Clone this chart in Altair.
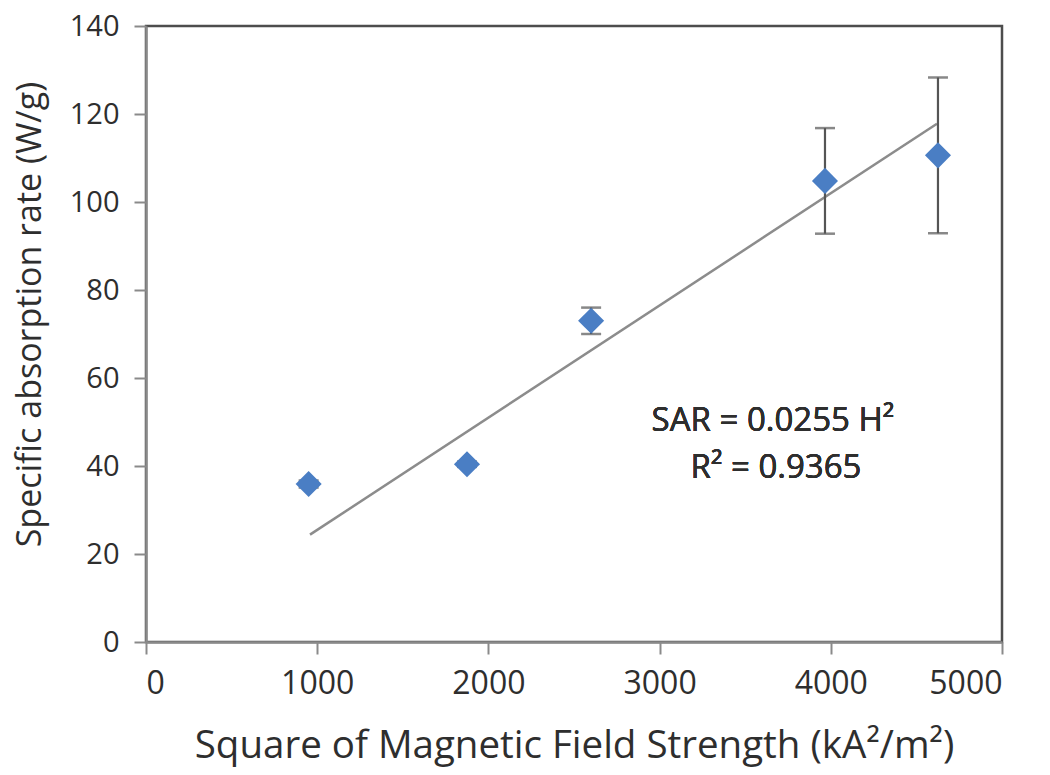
import altair as alt
import pandas as pd

# Data
h2 = [950, 1875, 2600, 3966, 4626]          # kA^2/m^2
sar = [35.9, 40.4, 73.0, 104.8, 110.6]       # W/g
err = [0.8, 0.6, 3.0, 12.0, 17.7]            # W/g

trend_x = [958, 4620]
trend_y = [24.4, 117.8]

x_ticks = [0, 1000, 2000, 3000, 4000, 5000]
y_ticks = [0, 20, 40, 60, 80, 100, 120, 140]

pts = pd.DataFrame({"h2": h2, "sar": sar, "err": err})
pts["lo"] = pts["sar"] - pts["err"]
pts["hi"] = pts["sar"] + pts["err"]
trend = pd.DataFrame({"h2": trend_x, "sar": trend_y})

FONT = "Open Sans"
TXT = "#2e2e2e"

x_scale = alt.Scale(domain=[0, 5000], nice=False, zero=False)
y_scale = alt.Scale(domain=[0, 140], nice=False, zero=False)

x_axis = alt.Axis(values=x_ticks, format="d", title="Square of Magnetic Field Strength (kA²/m²)",
                  grid=False, tickSize=12, labelPadding=14, titlePadding=28,
                  labelFontSize=32, titleFontSize=38.5, labelFont=FONT, titleFont=FONT,
                  labelColor=TXT, titleColor=TXT, titleFontWeight="normal",
                  domainColor="#8a8a8a", domainWidth=2.5, tickColor="#8a8a8a", tickWidth=2)
y_axis = alt.Axis(values=y_ticks, title="Specific absorption rate (W/g)",
                  grid=False, tickSize=12, labelPadding=15, titlePadding=22,
                  titleY=288,
                  labelFontSize=29, titleFontSize=34, labelFont=FONT, titleFont=FONT,
                  labelColor=TXT, titleColor=TXT, titleFontWeight="normal",
                  domainColor="#8a8a8a", domainWidth=2.5, tickColor="#8a8a8a", tickWidth=2)

base = alt.Chart(pts)

line = alt.Chart(trend).mark_line(color="#8c8c8c", strokeWidth=2.5).encode(
    x=alt.X("h2:Q", scale=x_scale, axis=x_axis),
    y=alt.Y("sar:Q", scale=y_scale, axis=y_axis),
)

bars = base.mark_rule(color="#555555", strokeWidth=2.2).encode(
    x="h2:Q", y="lo:Q", y2="hi:Q")
cap_lo = base.mark_tick(orient="horizontal", size=20, thickness=2.5, color="#555555").encode(
    x="h2:Q", y="lo:Q")
cap_hi = base.mark_tick(orient="horizontal", size=20, thickness=2.5, color="#555555").encode(
    x="h2:Q", y="hi:Q")

points = base.mark_point(shape="diamond", filled=True, size=680, color="#4a7ec4",
                         opacity=1).encode(x="h2:Q", y="sar:Q")

ann1 = alt.Chart(pts).mark_text(text="SAR = 0.0255 H²", font=FONT, fontSize=33,
                                color=TXT, align="center", baseline="middle").encode(
    x=alt.datum(3662), y=alt.datum(50.3))
ann2 = alt.Chart(pts).mark_text(text="R² = 0.9365", font=FONT, fontSize=33,
                                color=TXT, align="center", baseline="middle").encode(
    x=alt.datum(3680), y=alt.datum(39.6))

chart = alt.layer(line, bars, cap_lo, cap_hi, points, ann1, ann2).properties(
    width=856, height=616,
    autosize=alt.AutoSizeParams(type="none"),
    padding={"left": 138, "top": 18, "right": 30, "bottom": 130},
    background="white",
).configure_view(stroke="#4d4d4d", strokeWidth=2.5)

chart.save("out.html", embed_options={"renderer": "svg", "actions": False})
